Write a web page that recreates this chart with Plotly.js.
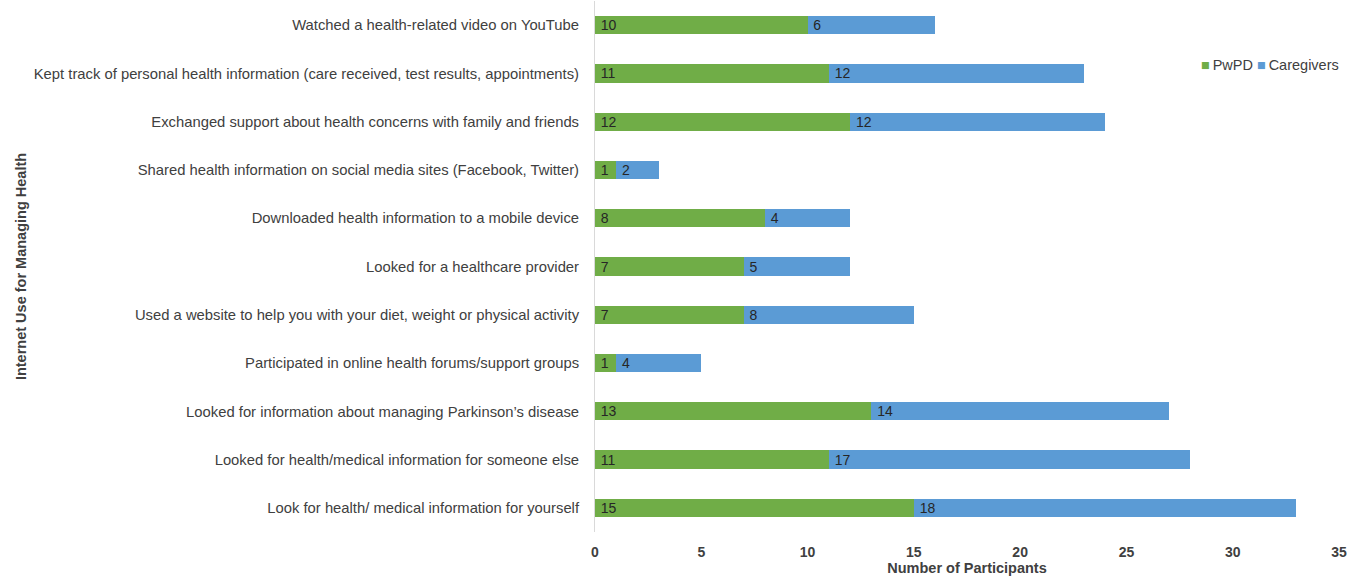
<!DOCTYPE html>
<html>
<head>
<meta charset="utf-8">
<script src="https://cdn.plot.ly/plotly-3.0.1.min.js"></script>
<style>html,body{margin:0;padding:0;background:#fff;}#chart{width:1348px;height:576px;}</style>
</head>
<body>
<div id="chart"></div>
<script>
const categories = [
  "Watched a health-related video on YouTube",
  "Kept track of personal health information (care received, test results, appointments)",
  "Exchanged support about health concerns with family and friends",
  "Shared health information on social media sites (Facebook, Twitter)",
  "Downloaded health information to a mobile device",
  "Looked for a healthcare provider",
  "Used a website to help you with your diet, weight or physical activity",
  "Participated in online health forums/support groups",
  "Looked for information about managing Parkinson\u2019s disease",
  "Looked for health/medical information for someone else",
  "Look for health/ medical information for yourself"
];
const pwpd = [10, 11, 12, 1, 8, 7, 7, 1, 13, 11, 15];
const caregivers = [6, 12, 12, 2, 4, 5, 8, 4, 14, 17, 18];
const xTicks = [0, 5, 10, 15, 20, 25, 30, 35];
const seriesNames = ["PwPD", "Caregivers"];
const seriesColors = ["#70AD47", "#5B9BD5"];

const textFont = {family: "Liberation Sans, Arial, sans-serif", size: 14, color: "#262626"};
const traces = [pwpd, caregivers].map((vals, i) => ({
  type: "bar", orientation: "h", name: seriesNames[i], y: categories, x: vals,
  marker: {color: seriesColors[i]}, text: vals.map(v => "\u2009" + v), textposition: "inside",
  textangle: 0, insidetextanchor: "start", textfont: textFont, width: 0.38,
  hoverinfo: "x+y"
}));

const legendText = seriesNames.map((n, i) =>
  '<span style="color:' + seriesColors[i] + '">\u25A0</span>\u2009' + n).join(" ");

const layout = {
  width: 1348, height: 576,
  barmode: "stack",
  margin: {l: 595, r: 9, t: 1, b: 44, pad: 0},
  paper_bgcolor: "#fff", plot_bgcolor: "#fff",
  showlegend: false,
  uniformtext: {mode: "show", minsize: 14},
  annotations: [{
    xref: "paper", yref: "paper", x: 1.003, xanchor: "right", y: 0.879, yanchor: "middle",
    text: legendText, showarrow: false,
    font: {family: "Liberation Sans, Arial, sans-serif", size: 14.5, color: "#404040"}
  }],
  xaxis: {range: [0, 35], tickvals: xTicks, ticktext: xTicks.map(String),
    showgrid: false, zeroline: false, showline: false,
    ticks: "outside", ticklen: 7, tickcolor: "rgba(0,0,0,0)",
    tickfont: {family: "Liberation Sans Narrow, Arial Narrow, Liberation Sans, sans-serif", size: 14, color: "#404040", weight: "bold"},
    title: {text: "<b>Number of Participants</b>", standoff: 2,
      font: {family: "Liberation Sans Narrow, Arial Narrow, Liberation Sans, sans-serif", size: 14.5, color: "#404040"}},
    fixedrange: true},
  yaxis: {type: "category", autorange: "reversed", showgrid: false, zeroline: false,
    showline: true, linecolor: "#d9d9d9", linewidth: 1,
    ticks: "outside", ticklen: 12, tickcolor: "rgba(0,0,0,0)",
    tickfont: {family: "Liberation Sans, Arial, sans-serif", size: 14.8, color: "#404040"},
    title: {text: "<b>Internet Use for Managing Health</b>", standoff: 3,
      font: {family: "Liberation Sans, Arial, sans-serif", size: 14.5, color: "#404040"}},
    automargin: false, fixedrange: true}
};

Plotly.newPlot("chart", traces, layout, {displayModeBar: false, staticPlot: true});
</script>
</body>
</html>
